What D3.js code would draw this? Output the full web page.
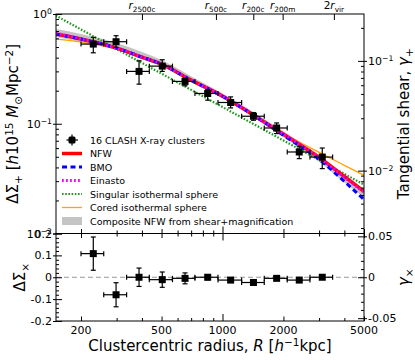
<!DOCTYPE html>
<html>
<head>
<meta charset="utf-8">
<script src="https://cdn.jsdelivr.net/npm/d3@7"></script>
<style>
  body { margin: 0; background: #fff; }
  svg { font-family: "DejaVu Sans", sans-serif; }
</style>
</head>
<body>
<div id="chart"></div>
<script>
// binned shear profile
const radius = [230, 298, 387, 504, 653, 845, 1097, 1422, 1851, 2394, 3110];
const radiusLo = [200, 259, 336, 435, 566, 731, 950, 1243, 1608, 2088, 2704];
const radiusHi = [259, 336, 435, 566, 731, 950, 1243, 1608, 2088, 2704, 3500];
const tangential = [0.532, 0.559, 0.300, 0.335, 0.243, 0.1887, 0.1562, 0.1171, 0.0915, 0.0553, 0.0497];
const tangentialLo = [0.443, 0.496, 0.2295, 0.300, 0.2215, 0.1639, 0.1394, 0.1076, 0.0814, 0.0481, 0.0390];
const tangentialHi = [0.613, 0.634, 0.3745, 0.383, 0.260, 0.2053, 0.1757, 0.1265, 0.1017, 0.0623, 0.0601];
const cross = [0.108, -0.080, 0.0, -0.011, -0.005, 0.0, -0.013, -0.024, -0.005, -0.013, 0.0];
const crossErr = [0.076, 0.055, 0.042, 0.035, 0.025, 0.012, 0.010, 0.008, 0.008, 0.008, 0.008];

// model curves read at these radii
const modelRadius = [150, 200, 300, 400, 500, 700, 1000, 1400, 2000, 3000, 4000, 5000];
const nfw = [0.657, 0.591, 0.489, 0.405, 0.349, 0.2495, 0.1783, 0.1221, 0.0802, 0.0494, 0.0331, 0.0242];
const bmo = [0.657, 0.591, 0.489, 0.405, 0.349, 0.2495, 0.1783, 0.1221, 0.0785, 0.0474, 0.0298, 0.0204];
const einasto = [0.671, 0.591, 0.489, 0.405, 0.349, 0.2495, 0.1783, 0.1221, 0.0802, 0.0494, 0.0325, 0.0238];
const sis = [0.969, 0.723, 0.479, 0.358, 0.286, 0.2035, 0.1421, 0.1011, 0.0704, 0.0467, 0.0349, 0.0279];
const cored = [0.591, 0.555, 0.479, 0.405, 0.349, 0.2495, 0.1783, 0.1234, 0.0819, 0.0549, 0.0418, 0.0339];
const compositeHi = [0.7295, 0.657, 0.5433, 0.4498, 0.3801, 0.2715, 0.1899, 0.1301, 0.0854, 0.0516, 0.0339, 0.0247];
const compositeLo = [0.6166, 0.555, 0.469, 0.388, 0.335, 0.2393, 0.1710, 0.1171, 0.0753, 0.0454, 0.0292, 0.0213];

// characteristic radii on the top axis
const topRadius = [400, 928, 1419, 1982, 3550];
const topNames = [["", "r", "2500c"], ["", "r", "500c"], ["", "r", "200c"], ["", "r", "200m"], ["2", "r", "vir"]];

const xTicks = [200, 300, 400, 500, 600, 700, 800, 900, 1000, 2000, 3000, 4000, 5000];
const xLabels = [200, 500, 1000, 2000, 5000];
const sigmaCrit = 3.74;

const W = 415, H = 360;
const pL = 56, pR = 364, pT = 14, pM = 233.5, pB = 321;

const svg = d3.select("#chart").append("svg").attr("width", W).attr("height", H);

const x = d3.scaleLog().domain([150.5, 5000]).range([pL, pR]);
const y = d3.scaleLog().domain([0.01, 1]).range([pM, pT]);
const yG = d3.scaleLog().domain([0.01 / sigmaCrit, 1 / sigmaCrit]).range([pM, pT]);
const y2 = d3.scaleLinear().domain([-0.2, 0.2]).range([pB, pM]);
const y2G = d3.scaleLinear().domain([-0.2 / sigmaCrit, 0.2 / sigmaCrit]).range([pB, pM]);

function rich(sel, parts, size) {
  let shift = 0;
  parts.forEach(([t, kind]) => {
    const s = kind === "sup" ? -0.36 * size : kind === "sub" ? 0.26 * size : 0;
    const ts = sel.append("tspan").attr("dy", s - shift).text(t);
    if (kind === "sup" || kind === "sub") ts.attr("font-size", size * 0.7);
    if (kind === "it") ts.attr("font-style", "italic");
    shift = s;
  });
}

svg.append("clipPath").attr("id", "clip-main")
  .append("rect").attr("x", pL).attr("y", pT).attr("width", pR - pL).attr("height", pM - pT);

const main = svg.append("g").attr("clip-path", "url(#clip-main)");
const modelPts = (vals) => modelRadius.map((r, i) => [r, vals[i]]);

main.append("path")
  .datum(modelRadius.map((r, i) => [r, compositeLo[i], compositeHi[i]]))
  .attr("d", d3.area().x(d => x(d[0])).y0(d => y(d[1])).y1(d => y(d[2])).curve(d3.curveMonotoneX))
  .attr("fill", "#c4c4c4");

const line = d3.line().x(d => x(d[0])).y(d => y(d[1])).curve(d3.curveMonotoneX);
const models = [
  { vals: cored, color: "#ffa500", width: 1.3, dash: null },
  { vals: sis, color: "#1f9a1f", width: 2.2, dash: "1.6,1.6" },
  { vals: nfw, color: "#ff0000", width: 3.5, dash: null },
  { vals: bmo, color: "#0000ff", width: 3, dash: "5,3.5" },
  { vals: einasto, color: "#ff00ff", width: 3, dash: "1.8,2.2" },
];
models.forEach(m => {
  main.append("path").datum(modelPts(m.vals))
    .attr("d", line).attr("fill", "none")
    .attr("stroke", m.color).attr("stroke-width", m.width)
    .attr("stroke-dasharray", m.dash);
});

function errorPoints(g, ys, lo, hi) {
  const pts = g.selectAll(".pt").data(radius).enter().append("g").attr("class", "pt");
  pts.append("line")
    .attr("x1", (d, i) => x(radiusLo[i])).attr("x2", (d, i) => x(radiusHi[i]))
    .attr("y1", (d, i) => ys(i)).attr("y2", (d, i) => ys(i));
  pts.append("line")
    .attr("x1", d => x(d)).attr("x2", d => x(d))
    .attr("y1", (d, i) => lo(i)).attr("y2", (d, i) => hi(i));
  [(d, i) => x(radiusLo[i]), (d, i) => x(radiusHi[i])].forEach(fx => {
    pts.append("line").attr("x1", fx).attr("x2", fx)
      .attr("y1", (d, i) => ys(i) - 2.5).attr("y2", (d, i) => ys(i) + 2.5);
  });
  [lo, hi].forEach(fy => {
    pts.append("line").attr("x1", d => x(d) - 2.5).attr("x2", d => x(d) + 2.5)
      .attr("y1", (d, i) => fy(i)).attr("y2", (d, i) => fy(i));
  });
  pts.selectAll("line").attr("stroke", "#000").attr("stroke-width", 1.2);
  pts.append("rect")
    .attr("x", d => x(d) - 3.5).attr("y", (d, i) => ys(i) - 3.5)
    .attr("width", 7).attr("height", 7).attr("fill", "#000");
}

errorPoints(svg.append("g"), i => y(tangential[i]), i => y(tangentialLo[i]), i => y(tangentialHi[i]));

svg.append("line")
  .attr("x1", pL).attr("x2", pR).attr("y1", y2(0)).attr("y2", y2(0))
  .attr("stroke", "#999").attr("stroke-width", 1).attr("stroke-dasharray", "5,3");

errorPoints(svg.append("g"), i => y2(cross[i]), i => y2(cross[i] - crossErr[i]), i => y2(cross[i] + crossErr[i]));

// frames
[[pT, pM], [pM, pB]].forEach(([a, b]) => {
  svg.append("rect").attr("x", pL).attr("y", a).attr("width", pR - pL).attr("height", b - a)
    .attr("fill", "none").attr("stroke", "#000").attr("stroke-width", 1);
});

// x ticks
const xLen = d => d === 1000 ? 7 : xLabels.includes(d) ? 4.5 : 3;
function xAxis(yPos, dir) {
  const g = svg.append("g").attr("transform", `translate(0,${yPos})`)
    .call(d3.axisBottom(x).tickValues(xTicks).tickFormat(""));
  g.select(".domain").remove();
  g.selectAll(".tick line").attr("y1", 0).attr("y2", d => dir * xLen(d)).attr("stroke-width", 1);
  return g;
}
xAxis(pM, -1);
xAxis(pM, 1);
xAxis(pB, -1);
svg.append("g").selectAll("text").data(xLabels).enter().append("text")
  .attr("x", d => x(d)).attr("y", 333.5).attr("text-anchor", "middle")
  .attr("font-size", 11).text(d => d);

// top axis
const topAxis = svg.append("g").attr("transform", `translate(0,${pT})`)
  .call(d3.axisTop(x).tickValues(topRadius).tickFormat(""));
topAxis.select(".domain").remove();
topAxis.selectAll(".tick line").attr("y2", 6);
topNames.forEach((n, i) => {
  const t = svg.append("text").attr("x", x(topRadius[i])).attr("y", 9)
    .attr("text-anchor", "middle").attr("font-size", 10.5);
  rich(t, [[n[0]], [n[1], "it"], [n[2], "sub"]], 10.5);
});

// log y ticks
function logTicks(scale) {
  const [a, b] = scale.domain();
  const out = [];
  for (let e = -4; e <= 1; e++) {
    for (let k = 1; k <= 9; k++) {
      const v = k * Math.pow(10, e);
      if (v >= a * 0.999 && v <= b * 1.001) out.push(+v.toPrecision(3));
    }
  }
  return out;
}
const isDecade = v => Math.abs(Math.log10(v) - Math.round(Math.log10(v))) < 1e-6;

function yAxisLog(scale, xPos, dir) {
  const g = svg.append("g").attr("transform", `translate(${xPos},0)`)
    .call(d3.axisLeft(scale).tickValues(logTicks(scale)).tickFormat(""));
  g.select(".domain").remove();
  g.selectAll(".tick line")
    .attr("x1", d => isDecade(d) ? -3 * dir : 0)
    .attr("x2", d => (isDecade(d) ? 6 : 3) * dir);
}
yAxisLog(y, pL, 1);
yAxisLog(yG, pR, -1);

function yAxisLin(scale, xPos, dir, step, major) {
  const [a, b] = scale.domain();
  const vals = d3.range(Math.ceil(a / step - 1e-6), Math.floor(b / step + 1e-6) + 1).map(k => +(k * step).toFixed(4));
  const isMajor = v => Math.abs(v / major - Math.round(v / major)) < 1e-6;
  const g = svg.append("g").attr("transform", `translate(${xPos},0)`)
    .call(d3.axisLeft(scale).tickValues(vals).tickFormat(""));
  g.select(".domain").remove();
  g.selectAll(".tick line")
    .attr("x1", d => isMajor(d) ? -3 * dir : 0)
    .attr("x2", d => (isMajor(d) ? 6 : 3) * dir);
}
yAxisLin(y2, pL, 1, 0.02, 0.1);
yAxisLin(y2G, pR, -1, 0.01, 0.05);

// y tick labels
const fs = 11;
[[1, "0"], [0.1, "−1"], [0.01, "−2"]].forEach(([v, e]) => {
  const t = svg.append("text").attr("x", 52).attr("y", y(v) + 4).attr("text-anchor", "end").attr("font-size", fs);
  rich(t, [["10"], [e, "sup"]], fs);
});
[[0.1, "−1"], [0.01, "−2"]].forEach(([v, e]) => {
  const t = svg.append("text").attr("x", 368).attr("y", yG(v) + 4).attr("font-size", fs);
  rich(t, [["10"], [e, "sup"]], fs);
});
[0.2, 0.1, 0, -0.1, -0.2].forEach(v => {
  svg.append("text").attr("x", 52).attr("y", y2(v) + 4).attr("text-anchor", "end")
    .attr("font-size", fs).text(v === 0 ? "0" : String(v));
});
[0.05, 0, -0.05].forEach(v => {
  svg.append("text").attr("x", 368).attr("y", y2G(v) + 4)
    .attr("font-size", fs).text(v === 0 ? "0" : String(v));
});

// axis titles
const ts = 15;
const yl = svg.append("text").attr("transform", `translate(18,${(pT + pM) / 2}) rotate(-90)`)
  .attr("text-anchor", "middle").attr("font-size", ts);
rich(yl, [["ΔΣ"], ["+", "sub"], [" ["], ["h", "it"], ["10"], ["15", "sup"], [" "], ["M", "it"], ["⊙", "sub"], ["Mpc"], ["−2", "sup"], ["]"]], ts);

const yr = svg.append("text").attr("transform", `translate(409,${(pT + pM) / 2}) rotate(-90)`)
  .attr("text-anchor", "middle").attr("font-size", ts);
rich(yr, [["Tangential shear, "], ["γ", "it"], ["+", "sub"]], ts);

const yl2 = svg.append("text").attr("transform", `translate(25,${y2(0)}) rotate(-90)`)
  .attr("text-anchor", "middle").attr("font-size", ts);
rich(yl2, [["ΔΣ"], ["×", "sub"]], ts);

const yr2 = svg.append("text").attr("transform", `translate(409,${y2(0)}) rotate(-90)`)
  .attr("text-anchor", "middle").attr("font-size", ts);
rich(yr2, [["γ", "it"], ["×", "sub"]], ts);

const xl = svg.append("text").attr("x", (pL + pR) / 2).attr("y", 351)
  .attr("text-anchor", "middle").attr("font-size", ts);
rich(xl, [["Clustercentric radius, "], ["R", "it"], [" ["], ["h", "it"], ["−1", "sup"], ["kpc]"]], ts);

// legend
const legendItems = [
  { label: "16 CLASH X-ray clusters", kind: "data" },
  { label: "NFW", kind: "line", m: models[2] },
  { label: "BMO", kind: "line", m: models[3] },
  { label: "Einasto", kind: "line", m: models[4] },
  { label: "Singular isothermal sphere", kind: "line", m: models[1] },
  { label: "Cored isothermal sphere", kind: "line", m: models[0] },
  { label: "Composite NFW from shear+magnification", kind: "band" },
];
const legend = svg.append("g");
legendItems.forEach((it, i) => {
  const ly = 140 + i * 13.5;
  const g = legend.append("g").attr("transform", `translate(0,${ly})`);
  if (it.kind === "data") {
    g.append("line").attr("x1", 66.5).attr("x2", 78).attr("y1", 0).attr("y2", 0).attr("stroke", "#000").attr("stroke-width", 1.2);
    g.append("line").attr("x1", 72).attr("x2", 72).attr("y1", -5.5).attr("y2", 5.5).attr("stroke", "#000").attr("stroke-width", 1.2);
    g.append("rect").attr("x", 68.5).attr("y", -3.5).attr("width", 7).attr("height", 7).attr("rx", 1.5).attr("fill", "#000");
  } else if (it.kind === "line") {
    g.append("line").attr("x1", 62).attr("x2", 82).attr("y1", 0).attr("y2", 0)
      .attr("stroke", it.m.color).attr("stroke-width", it.m.width).attr("stroke-dasharray", it.m.dash);
  } else {
    g.append("rect").attr("x", 62).attr("y", -4).attr("width", 20).attr("height", 8).attr("fill", "#c4c4c4");
  }
  g.append("text").attr("x", 90).attr("y", 3.5).attr("font-size", 9.5).text(it.label);
});
</script>
</body>
</html>
